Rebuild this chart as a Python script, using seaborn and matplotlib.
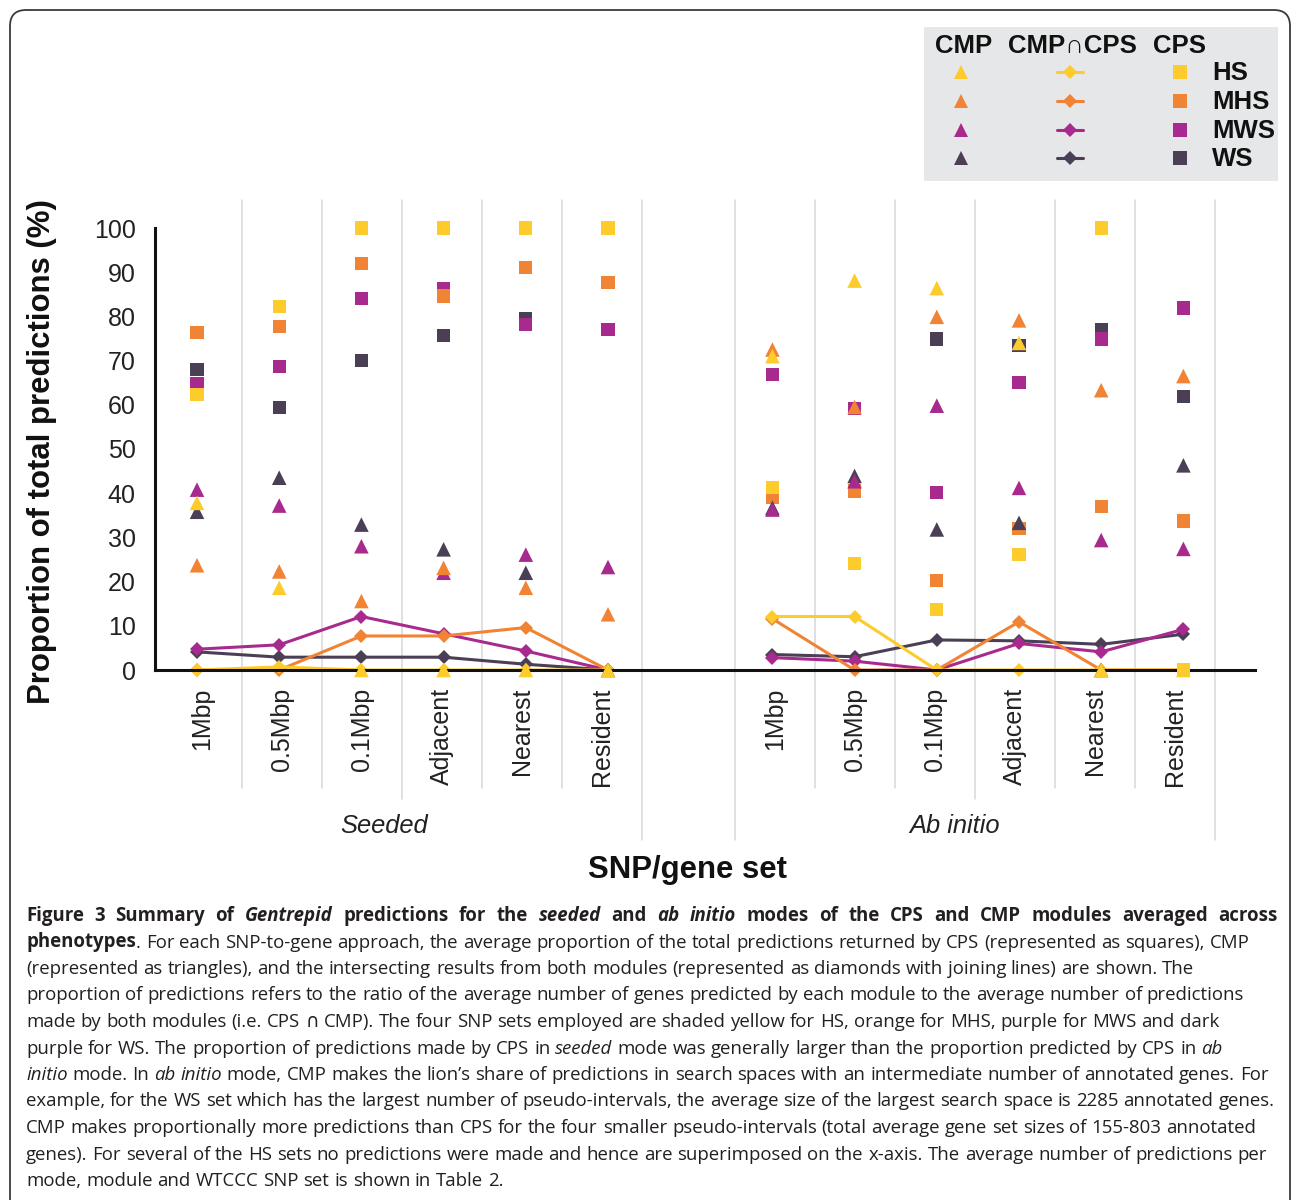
import numpy as np
import pandas as pd
import matplotlib
matplotlib.use("Agg")
import matplotlib.pyplot as plt
import seaborn as sns
from matplotlib.patches import FancyBboxPatch
from matplotlib import font_manager

# ---------------- data ----------------
sets = ["HS", "MHS", "MWS", "WS"]
approaches = ["1Mbp", "0.5Mbp", "0.1Mbp", "Adjacent", "Nearest", "Resident"]
modes = ["Seeded", "Ab initio"]

# CPS (squares)
cps_seeded_HS = [62.3, 82.3, 100, 100, 100, 100]
cps_seeded_MHS = [76.4, 77.8, 91.9, 84.6, 91.1, 87.7]
cps_seeded_MWS = [64.7, 68.6, 84.0, 86.2, 78.1, 77.0]
cps_seeded_WS = [68.0, 59.3, 70.1, 75.7, 79.4, 77.0]
cps_abinitio_HS = [41.2, 24.1, 13.7, 26.1, 100, 0]
cps_abinitio_MHS = [39.1, 40.5, 20.3, 32.0, 36.9, 33.7]
cps_abinitio_MWS = [66.8, 59.1, 40.2, 65.1, 74.9, 81.9]
cps_abinitio_WS = [66.8, 59.1, 74.9, 73.5, 77.0, 61.9]

# CMP (triangles)
cmp_seeded_HS = [37.8, 18.6, 0, 0, 0, 0]
cmp_seeded_MHS = [23.7, 22.3, 15.6, 23.1, 18.6, 12.6]
cmp_seeded_MWS = [40.8, 37.2, 28.0, 22.0, 26.1, 23.3]
cmp_seeded_WS = [35.8, 43.5, 32.9, 27.3, 22.0, 0]
cmp_abinitio_HS = [71.0, 88.1, 86.4, 74.0, 0, 0]
cmp_abinitio_MHS = [72.5, 59.5, 79.9, 79.1, 63.3, 66.5]
cmp_abinitio_MWS = [36.3, 42.7, 59.8, 41.2, 29.4, 27.4]
cmp_abinitio_WS = [36.7, 43.9, 31.8, 33.3, 0, 46.3]

# CMP ∩ CPS (diamonds with lines)
both_seeded_HS = [0, 0.7, 0, 0, 0, 0]
both_seeded_MHS = [0, 0, 7.7, 7.7, 9.6, 0]
both_seeded_MWS = [4.7, 5.7, 12.1, 8.2, 4.3, 0]
both_seeded_WS = [4.1, 2.9, 2.9, 2.9, 1.3, 0]
both_abinitio_HS = [12.1, 12.1, 0, 0, 0, 0]
both_abinitio_MHS = [11.6, 0, 0, 10.9, 0, 0]
both_abinitio_MWS = [2.8, 2.0, 0, 6.0, 4.1, 9.2]
both_abinitio_WS = [3.5, 3.0, 6.8, 6.6, 5.8, 8.1]

colors = {"HS": "#FDCB2B", "MHS": "#F08434", "MWS": "#A82A8E", "WS": "#4A3F55"}
draw_order = ["WS", "MWS", "MHS", "HS"]

tables = {
    "CPS": {("Seeded", "HS"): cps_seeded_HS, ("Seeded", "MHS"): cps_seeded_MHS,
            ("Seeded", "MWS"): cps_seeded_MWS, ("Seeded", "WS"): cps_seeded_WS,
            ("Ab initio", "HS"): cps_abinitio_HS, ("Ab initio", "MHS"): cps_abinitio_MHS,
            ("Ab initio", "MWS"): cps_abinitio_MWS, ("Ab initio", "WS"): cps_abinitio_WS},
    "CMP": {("Seeded", "HS"): cmp_seeded_HS, ("Seeded", "MHS"): cmp_seeded_MHS,
            ("Seeded", "MWS"): cmp_seeded_MWS, ("Seeded", "WS"): cmp_seeded_WS,
            ("Ab initio", "HS"): cmp_abinitio_HS, ("Ab initio", "MHS"): cmp_abinitio_MHS,
            ("Ab initio", "MWS"): cmp_abinitio_MWS, ("Ab initio", "WS"): cmp_abinitio_WS},
    "BOTH": {("Seeded", "HS"): both_seeded_HS, ("Seeded", "MHS"): both_seeded_MHS,
             ("Seeded", "MWS"): both_seeded_MWS, ("Seeded", "WS"): both_seeded_WS,
             ("Ab initio", "HS"): both_abinitio_HS, ("Ab initio", "MHS"): both_abinitio_MHS,
             ("Ab initio", "MWS"): both_abinitio_MWS, ("Ab initio", "WS"): both_abinitio_WS},
}

n_app = len(approaches)
rows = []
for module, tab in tables.items():
    for s in draw_order:
        for mi, m in enumerate(modes):
            for ai, a in enumerate(approaches):
                rows.append(dict(module=module, mode=m, set=s, approach=a,
                                 pos=ai + mi * (n_app + 1), value=tab[(m, s)][ai]))
df = pd.DataFrame(rows)

# ---------------- figure ----------------
sns.set_theme(style="white")
plt.rcParams["font.family"] = ["Liberation Sans", "DejaVu Sans"]
W, H = 1293, 1200
fig = plt.figure(figsize=(W / 100, H / 100), dpi=100)

# background axes in pixel coordinates (for frame and caption)
bg = fig.add_axes([0, 0, 1, 1], zorder=0)
bg.set_xlim(0, W)
bg.set_ylim(H, 0)
bg.axis("off")
bg.add_patch(FancyBboxPatch((10, 10), 1280, 1220,
                            boxstyle="round,pad=0,rounding_size=16",
                            fill=False, ec="#3a3a3a", lw=1.3, clip_on=False))

# main axes
ax = fig.add_axes([155 / W, 1 - 670 / H, 1100 / W, 442 / H], zorder=1)
ax.set_facecolor("none")

d_both = df[df.module == "BOTH"]
sns.lineplot(data=d_both, x="pos", y="value", hue="set", hue_order=draw_order,
             palette=colors, units="mode", estimator=None, sort=False,
             marker="D", markersize=7.5, markeredgewidth=0, linewidth=2.2,
             legend=False, ax=ax, clip_on=False, zorder=2)
d_cps = df[df.module == "CPS"]
sns.scatterplot(data=d_cps, x="pos", y="value", hue="set", hue_order=draw_order,
                palette=colors, marker="s", s=90, linewidth=0, legend=False,
                ax=ax, clip_on=False, zorder=3)
d_cmp = df[df.module == "CMP"]
sns.scatterplot(data=d_cmp, x="pos", y="value", hue="set", hue_order=draw_order,
                palette=colors, marker="^", s=110, linewidth=0, legend=False,
                ax=ax, clip_on=False, zorder=4)

# data scale: one category = 82.2 px, first category at 197 px
unit = 82.2
ax.set_ylim(0, 100)
ax.set_xlim((155 - 197) / unit, (1255 - 197) / unit)
ax.set_yticks(np.arange(0, 101, 10))

# category label area uses a slightly narrower slot grid (as in the original)
slot = 80 / unit
group_start = [(162 - 197) / unit, (735 - 197) / unit]
tick_pos = [g + slot * (j + 0.5) for g in group_start for j in range(n_app)]
ax.set_xticks(tick_pos)
ax.set_xticklabels(approaches * len(modes), rotation=90, fontsize=18, color="#222222")
ax.tick_params(axis="x", length=0, pad=13)
ax.tick_params(axis="y", length=6, width=1.5, direction="out", pad=8,
               labelsize=18, labelcolor="#222222", color="#111111")
ax.set_xlabel("")
ax.set_ylabel("")
for sp in ["top", "right"]:
    ax.spines[sp].set_visible(False)
for sp in ["left", "bottom"]:
    ax.spines[sp].set_linewidth(2.2)
    ax.spines[sp].set_color("#111111")

# category separators (extend above plot and down through the label area)
top_v = 106.3
seps = []
for j in range(1, n_app + 1):
    seps.append((group_start[0] + slot * j, -38.5 if j == n_app else (-29.2 if j == 3 else -26.7)))
for j in range(0, n_app + 1):
    seps.append((group_start[1] + slot * j, -38.5 if j in (0, n_app) else (-29.2 if j == 3 else -26.7)))
for b, bot in seps:
    ax.plot([b, b], [top_v, bot], color="#D6D7DB", lw=1.1, clip_on=False, zorder=0)

# axis titles / group labels
bg.text(42, 452, "Proportion of total predictions (%)", rotation=90, ha="center",
        va="center", fontsize=22.4, fontweight="bold", color="#111111")
bg.text(384, 826, modes[0], ha="center", va="center", fontsize=18.4,
        fontstyle="italic", color="#222222")
bg.text(955, 826, modes[1], ha="center", va="center", fontsize=18.4,
        fontstyle="italic", color="#222222")
bg.text(688, 870, "SNP/gene set", ha="center", va="center", fontsize=22.4,
        fontweight="bold", color="#111111")

# ---------------- legend ----------------
lax = fig.add_axes([924 / W, 1 - 181 / H, 354 / W, 154 / H], zorder=2)
lax.set_xlim(924, 1278)
lax.set_ylim(181, 27)
lax.set_facecolor("#E6E7E8")
for sp in lax.spines.values():
    sp.set_visible(False)
lax.set_xticks([])
lax.set_yticks([])
hdr = dict(fontsize=18.5, fontweight="bold", va="center", ha="left", color="#111111")
lax.text(935, 46, "CMP", **hdr)
lax.text(1008, 46, "CMP\u2229CPS", **hdr)
lax.text(1153, 46, "CPS", **hdr)
row_y = [72, 101, 130, 158]
for s, yy in zip(sets, row_y):
    c = colors[s]
    lax.plot([961], [yy], marker="^", ms=10, color=c, mew=0, ls="none")
    lax.plot([1057, 1083], [yy, yy], color=c, lw=2.2)
    lax.plot([1070], [yy], marker="D", ms=7.5, color=c, mew=0, ls="none")
    lax.plot([1180], [yy], marker="s", ms=9.5, color=c, mew=0, ls="none")
    lax.text(1212, yy + 1, s, **hdr)

# ---------------- caption ----------------
names = {f.name for f in font_manager.fontManager.ttflist}
cap_font = "Liberation Sans Narrow" if "Liberation Sans Narrow" in names else "Open Sans"
cap_family = [cap_font, "DejaVu Sans"]
B, BI, R, I = ("bold", "normal"), ("bold", "italic"), ("normal", "normal"), ("normal", "italic")
caption = [
    [("Figure 3 Summary of ", B), ("Gentrepid", BI), (" predictions for the ", B), ("seeded", BI),
     (" and ", B), ("ab initio", BI), (" modes of the CPS and CMP modules averaged across", B)],
    [("phenotypes", B), (". For each SNP-to-gene approach, the average proportion of the total predictions returned by CPS (represented as squares), CMP", R)],
    [("(represented as triangles), and the intersecting results from both modules (represented as diamonds with joining lines) are shown. The", R)],
    [("proportion of predictions refers to the ratio of the average number of genes predicted by each module to the average number of predictions", R)],
    [("made by both modules (i.e. CPS \u2229 CMP). The four SNP sets employed are shaded yellow for HS, orange for MHS, purple for MWS and dark", R)],
    [("purple for WS. The proportion of predictions made by CPS in ", R), ("seeded", I),
     (" mode was generally larger than the proportion predicted by CPS in ", R), ("ab", I)],
    [("initio", I), (" mode. In ", R), ("ab initio", I),
     (" mode, CMP makes the lion\u2019s share of predictions in search spaces with an intermediate number of annotated genes. For", R)],
    [("example, for the WS set which has the largest number of pseudo-intervals, the average size of the largest search space is 2285 annotated genes.", R)],
    [("CMP makes proportionally more predictions than CPS for the four smaller pseudo-intervals (total average gene set sizes of 155-803 annotated", R)],
    [("genes). For several of the HS sets no predictions were made and hence are superimposed on the x-axis. The average number of predictions per", R)],
    [("mode, module and WTCCC SNP set is shown in Table 2.", R)],
]
renderer = fig.canvas.get_renderer()


def text_w(s, size, st):
    t = bg.text(0, 0, s, fontsize=size, fontweight=st[0], fontstyle=st[1], family=cap_family)
    w = t.get_window_extent(renderer).width
    t.remove()
    return w


def layout_line(segs, x0, y, size, draw, extra=0.0):
    x = x0
    sp = {}
    gaps = 0
    for text, st in segs:
        if st not in sp:
            sp[st] = text_w("a a", size, st) - text_w("aa", size, st)
        parts = text.split(" ")
        for i, p in enumerate(parts):
            if i > 0:
                x += sp[st] + extra
                gaps += 1
            if p:
                if draw:
                    bg.text(x, y, p, fontsize=size, fontweight=st[0], fontstyle=st[1],
                            family=cap_family, ha="left", va="baseline", color="#231F20")
                x += text_w(p, size, st)
    return x - x0, gaps


base = 10.0
maxw = max(layout_line(l, 0, 0, base, False)[0] for l in caption)
cap_size = base * 1250 / maxw
y0, dy = 921, 26.5
for i, l in enumerate(caption):
    extra = 0.0
    if i == 0:  # first line is justified to the right margin
        w0, g0 = layout_line(l, 26, 0, cap_size, False)
        extra = max(0.0, (1278 - 26 - w0) / max(g0, 1))
    layout_line(l, 26, y0 + i * dy, cap_size, True, extra)

fig.savefig("out.png", dpi=100)
